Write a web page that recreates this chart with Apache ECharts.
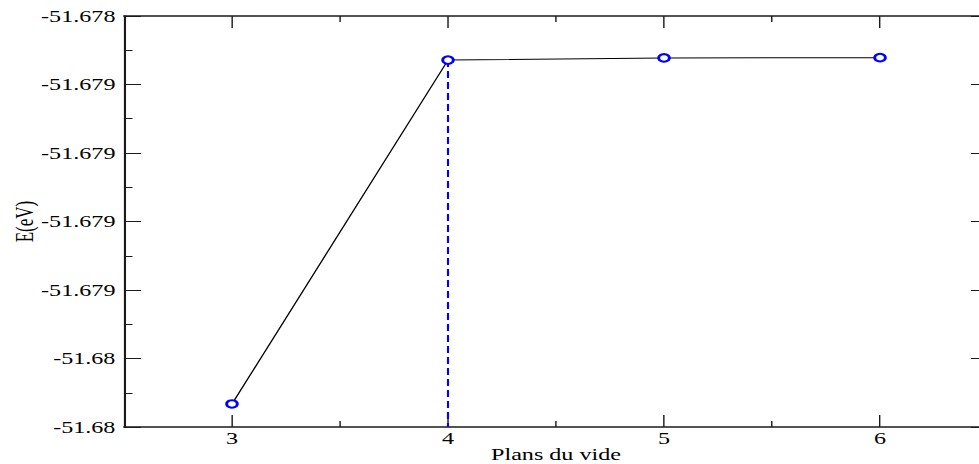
<!DOCTYPE html>
<html>
<head>
<meta charset="utf-8">
<script src="https://cdn.jsdelivr.net/npm/echarts@6/dist/echarts.min.js"></script>
<style>
  html, body { margin: 0; padding: 0; width: 979px; height: 464px; overflow: hidden; background: #fff; }
  /* the original plot is stretched sideways (ellipse markers, wide text), so draw narrow and stretch */
  #energy_plot { width: 690px; height: 464px; transform: scaleX(1.42); transform-origin: 0 0; }
</style>
</head>
<body>
<div id="energy_plot"></div>
<script>
// number of vacuum planes and total energy (eV)
let planes = [3, 4, 5, 6]
let energies = [-51.679666, -51.678411, -51.678403, -51.678402]

// tick labels as printed on the figure
let xTicks = [3, 4, 5, 6]
let xMinorTicks = [3.5, 4.5, 5.5]
let yTickLabels = ['-51.68', '-51.68', '-51.679', '-51.679', '-51.679', '-51.679', '-51.678']
let yMin = -51.67975
let yMax = -51.67825
let yStep = 0.00025

let font = 'Liberation Serif'
let black = '#1a1a1a'
let blue = '#0000ff'

function plotShow () {
  let dom = document.getElementById('energy_plot')
  let myChart = echarts.init(dom, null, { renderer: 'svg' })
  let gridRect = { left: 87.3, top: 16, width: 608.5, height: 411, outerBoundsMode: 'none', containLabel: false }

  let xBase = (gridIndex, position) => {
    return {
      type: 'value',
      gridIndex: gridIndex,
      position: position,
      min: 2.5,
      max: 6.5,
      splitLine: { show: false },
      axisLine: { show: gridIndex === 0, onZero: false, lineStyle: { color: black, width: 1.5 } },
      axisLabel: { show: false },
      axisTick: {
        inside: true,
        length: gridIndex === 0 ? 12 : 6,
        customValues: gridIndex === 0 ? xTicks : xMinorTicks,
        lineStyle: { color: black, width: 1 }
      }
    }
  }
  let yBase = (gridIndex, position) => {
    return {
      type: 'value',
      gridIndex: gridIndex,
      position: position,
      show: gridIndex === 0,
      min: yMin,
      max: yMax,
      interval: yStep,
      splitLine: { show: false },
      axisLine: { show: true, onZero: false, lineStyle: { color: black, width: 1.5 } },
      axisLabel: { show: false },
      axisTick: { inside: true, length: 12, lineStyle: { color: black, width: 1 } },
      minorTick: { show: true, splitNumber: 2, length: 6, lineStyle: { color: black, width: 1 } }
    }
  }

  let xBottom = xBase(0, 'bottom')
  xBottom.name = 'Plans du vide'
  xBottom.nameLocation = 'middle'
  xBottom.nameGap = 19
  xBottom.nameMoveOverlap = false
  xBottom.nameTextStyle = { color: '#000', fontFamily: font, fontSize: 17 }
  xBottom.axisLabel = {
    show: true,
    customValues: xTicks,
    margin: 3,
    color: '#000',
    fontFamily: font,
    fontSize: 17,
    formatter: function (val) {
      return xTicks.indexOf(val) > -1 ? String(val) : ''
    }
  }

  let yLeft = yBase(0, 'left')
  yLeft.name = 'E(eV)'
  yLeft.nameLocation = 'middle'
  yLeft.nameGap = 61
  yLeft.nameMoveOverlap = false
  yLeft.nameTextStyle = { color: '#000', fontFamily: font, fontSize: 17 }
  yLeft.axisLabel = {
    show: true,
    margin: 6,
    color: '#000',
    fontFamily: font,
    fontSize: 17,
    showMinLabel: true,
    showMaxLabel: true,
    formatter: function (val) {
      let i = Math.round((val - yMin) / yStep)
      return yTickLabels[i] || ''
    }
  }

  let option = {
    animation: false,
    backgroundColor: '#fff',
    textStyle: { fontFamily: font },
    grid: [
      Object.assign({ show: false }, gridRect),
      Object.assign({ show: false }, gridRect)
    ],
    xAxis: [xBottom, xBase(0, 'top'), xBase(1, 'bottom'), xBase(1, 'top')],
    yAxis: [yLeft, yBase(0, 'right'), yBase(1, 'left'), yBase(1, 'right')],
    series: [
      {
        name: 'plan4',
        type: 'line',
        xAxisIndex: 0,
        yAxisIndex: 0,
        z: 1,
        symbol: 'none',
        data: [[planes[1], energies[1]], [planes[1], yMin]],
        lineStyle: { color: blue, width: 1.5, type: [7, 4] }
      },
      {
        name: 'E',
        type: 'line',
        xAxisIndex: 0,
        yAxisIndex: 0,
        z: 2,
        symbol: 'emptyCircle',
        symbolSize: 7.5,
        data: planes.map((p, i) => [p, energies[i]]),
        lineStyle: { color: '#000', width: 1 },
        itemStyle: { color: blue, borderColor: blue, borderWidth: 1.5 }
      }
    ]
  }
  myChart.setOption(option, true)
}

plotShow()
</script>
</body>
</html>
